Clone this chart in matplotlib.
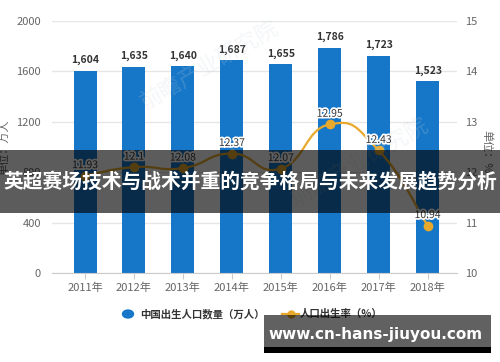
import matplotlib
matplotlib.use("Agg")
import matplotlib.pyplot as plt
import matplotlib.patches as patches
import matplotlib.patheffects as pe
from matplotlib.path import Path

plt.rcParams['font.family'] = ['Noto Sans CJK SC', 'DejaVu Sans']

years = ['2011年', '2012年', '2013年', '2014年', '2015年', '2016年', '2017年', '2018年']
births = [1604, 1635, 1640, 1687, 1655, 1786, 1723, 1523]
rates = [11.93, 12.1, 12.08, 12.37, 12.07, 12.95, 12.43, 10.94]
left_ticks = [0, 400, 800, 1200, 1600, 2000]
right_ticks = [10, 11, 12, 13, 14, 15]

bar_color = '#1677c8'
line_color = '#e8a92c'
text_color = '#333333'
tick_color = '#666666'


def smooth_path(xs, ys, k=0.25):
    # bezier path through the points, echarts-like smoothing
    n = len(xs)
    verts = [(xs[0], ys[0])]
    codes = [Path.MOVETO]
    for i in range(n - 1):
        p0 = (xs[i - 1], ys[i - 1]) if i > 0 else (xs[i], ys[i])
        p1 = (xs[i], ys[i])
        p2 = (xs[i + 1], ys[i + 1])
        p3 = (xs[i + 2], ys[i + 2]) if i + 2 < n else p2
        c1 = (p1[0] + (p2[0] - p0[0]) * k, p1[1] + (p2[1] - p0[1]) * k)
        c2 = (p2[0] - (p3[0] - p1[0]) * k, p2[1] - (p3[1] - p1[1]) * k)
        verts += [c1, c2, p2]
        codes += [Path.CURVE4] * 3
    return Path(verts, codes)


fig = plt.figure(figsize=(5, 3.62), dpi=100)
ax = fig.add_axes([0.104, 0.246, 0.81, 0.696])
ax2 = ax.twinx()

x = list(range(len(years)))
ax.bar(x, births, width=0.47, color=bar_color, zorder=2)
for xi, v in zip(x, births):
    ax.annotate(f'{v:,}', (xi, v), xytext=(0, 4), textcoords='offset points',
                ha='center', va='bottom', fontsize=7.5, fontweight='bold', color=text_color)

ax.set_xlim(-0.675, 7.6)
ax.set_ylim(0, 2000)
ax.set_yticks(left_ticks)
ax.set_xticks(x)
ax.set_xticklabels(years)
ax.grid(axis='y', color='#e6e6e6', linewidth=1, zorder=0)
ax.set_axisbelow(True)
ax.tick_params(axis='y', length=0, labelsize=8, labelcolor=tick_color, pad=8)
ax.tick_params(axis='x', length=4, color='#cccccc', labelsize=8, labelcolor=tick_color, pad=3)
for s in ['top', 'right', 'left']:
    ax.spines[s].set_visible(False)
ax.spines['bottom'].set_color('#cccccc')
ax.set_ylabel('单位：万人', fontsize=8, color=tick_color)
ax.yaxis.set_label_coords(-0.105, 0.5)

ax2.set_ylim(10, 15)
ax2.set_yticks(right_ticks)
ax2.tick_params(axis='y', length=0, labelsize=8, labelcolor=tick_color, pad=6)
for s in ax2.spines.values():
    s.set_visible(False)
ax2.set_ylabel('单位：%', fontsize=8, color=tick_color, rotation=270)
ax2.yaxis.set_label_coords(1.085, 0.48)

ax2.add_patch(patches.PathPatch(smooth_path(x, rates), facecolor='none',
                                edgecolor=line_color, linewidth=1.6, zorder=3))
ax2.plot(x, rates, 'o', color=line_color, markersize=6, zorder=4)
for xi, v in zip(x, rates):
    ax2.annotate(f'{v:g}', (xi, v), xytext=(0, 4), textcoords='offset points',
                 ha='center', va='bottom', fontsize=7.5, color=text_color, zorder=5,
                 path_effects=[pe.withStroke(linewidth=2.5, foreground='white')])

# faint background watermarks
for wx, wy in [(0.42, 0.82), (0.72, 0.55)]:
    fig.text(wx, wy, '前瞻产业研究院', fontsize=16, color='#c8d2dc', alpha=0.2,
             rotation=30, ha='center', va='center', zorder=0)

# legend
fig.patches.append(patches.Circle((128 / 500, 1 - 314 / 362), 0.011, transform=fig.transFigure,
                                  color=bar_color, figure=fig))
fig.text(140 / 500, 1 - 314 / 362, '中国出生人口数量（万人）', fontsize=7.5,
         color=text_color, va='center', fontweight='bold')
fig.lines.append(plt.Line2D([282 / 500, 299 / 500], [1 - 314 / 362] * 2, color=line_color,
                            linewidth=1.6, transform=fig.transFigure, figure=fig))
fig.lines.append(plt.Line2D([290.5 / 500], [1 - 314 / 362], marker='o', markersize=5,
                            color=line_color, transform=fig.transFigure, figure=fig))
fig.text(300 / 500, 1 - 314 / 362, '人口出生率（%）', fontsize=7.5,
         color=text_color, va='center', fontweight='bold')

# title banner overlay
fig.patches.append(patches.Rectangle((0, 1 - 213 / 362), 1, 63 / 362, transform=fig.transFigure,
                                     facecolor='black', alpha=0.64, zorder=10, figure=fig))
fig.text(0.5, 1 - 182 / 362, '英超赛场技术与战术并重的竞争格局与未来发展趋势分析',
         fontsize=14.2, fontweight='bold', color='white', ha='center', va='center', zorder=11)

# site watermark box
fig.patches.append(patches.Rectangle((264 / 500, 1 - 347 / 362), 227 / 500, 32 / 362,
                                     transform=fig.transFigure, facecolor='black', alpha=0.62,
                                     zorder=10, figure=fig))
fig.patches.append(patches.Rectangle((264 / 500, 1 - 353 / 362), 227 / 500, 6 / 362,
                                     transform=fig.transFigure, facecolor='black',
                                     zorder=10, figure=fig))
fig.text(376 / 500, 1 - 334 / 362, 'www.cn-hans-jiuyou.com', fontsize=11,
         fontweight='bold', color='white', ha='center', va='center', zorder=11,
         family=['DejaVu Sans'])

fig.savefig('out.png', dpi=100)
